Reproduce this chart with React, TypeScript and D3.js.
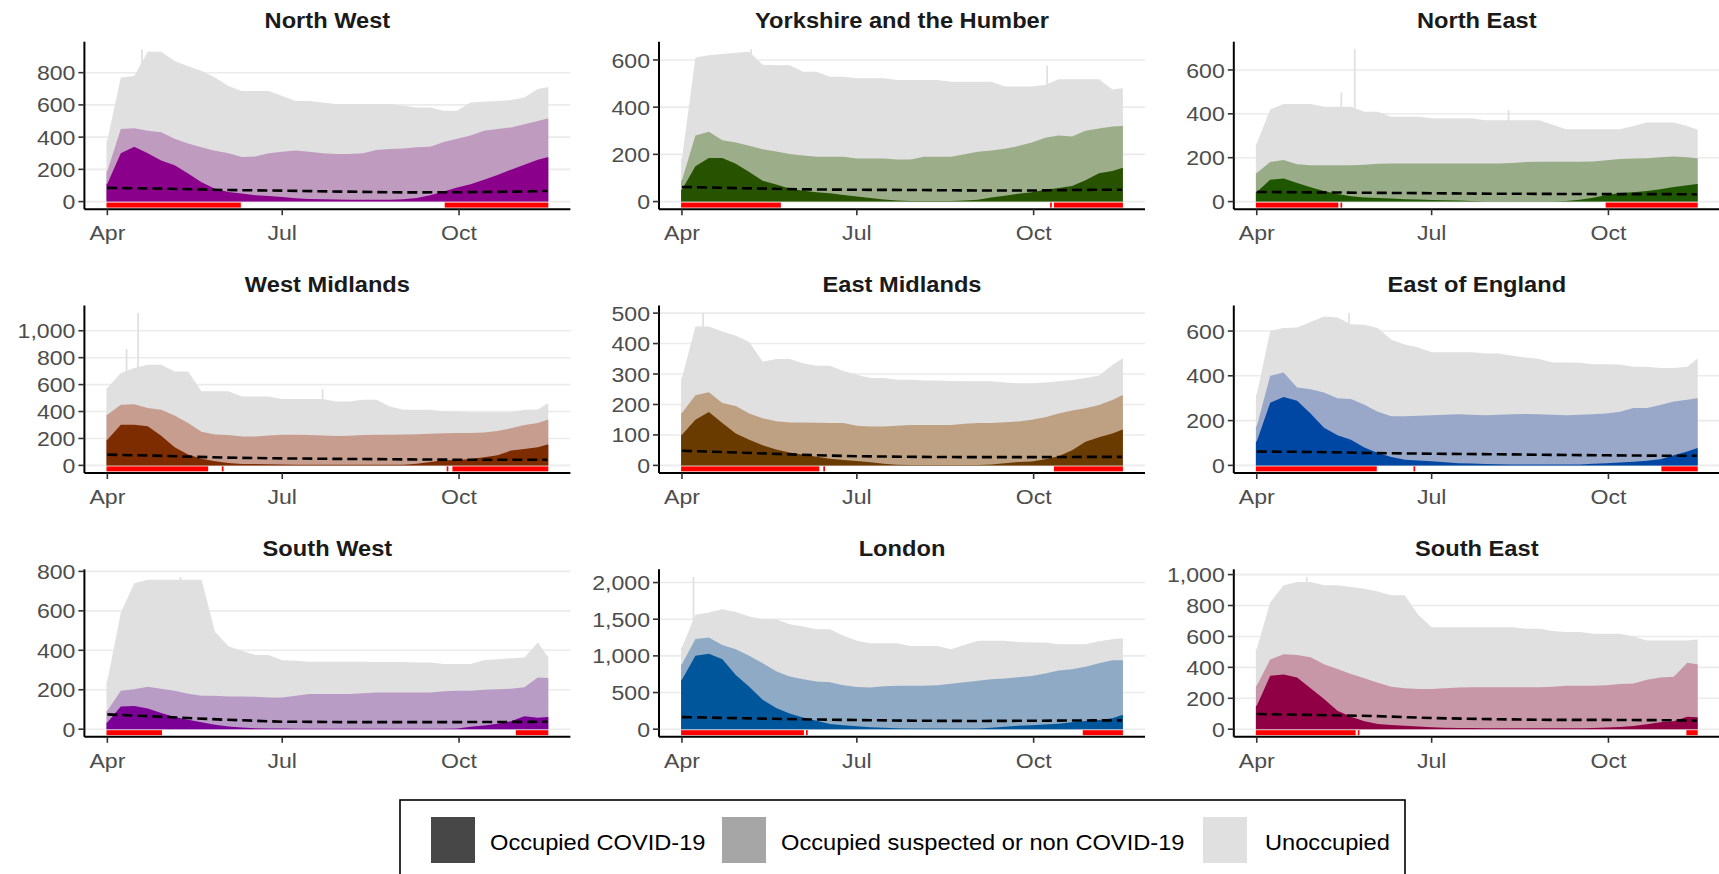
import React from "react";
import * as d3 from "d3";

// ---------- shared axes data ----------
const regionNames = [
  "North West", "Yorkshire and the Humber", "North East",
  "West Midlands", "East Midlands", "East of England",
  "South West", "London", "South East",
];
// days after 1 April 2020 at which the series were read
const sampleDays = [0, 7, 14, 21, 28, 35, 42, 49, 56, 63, 70, 77, 84, 91, 98, 105, 112, 119, 126, 133, 140, 147, 154, 161, 168, 175, 182, 189, 196, 203, 210, 217, 224, 229];
const thresholdDays = [0, 30, 61, 91, 122, 153, 183, 214, 229];
const firstDate = new Date(2020, 3, 1);
const lastDay = 229;
const xTickFormat = "%b";

// ---------- North West ----------
const covidNW = [110, 300, 340, 300, 255, 225, 175, 120, 80, 60, 50, 40, 35, 28, 20, 16, 14, 13, 12, 12, 12, 12, 14, 22, 40, 63, 88, 108, 135, 165, 198, 228, 260, 275];
const occupiedNW = [190, 450, 455, 440, 430, 390, 360, 337, 315, 300, 276, 280, 300, 310, 317, 310, 300, 296, 296, 300, 320, 327, 330, 337, 340, 370, 390, 410, 440, 450, 460, 480, 500, 515];
const bedsNW = [380, 770, 780, 930, 930, 872, 840, 810, 770, 718, 687, 687, 687, 656, 625, 625, 615, 605, 605, 605, 605, 605, 595, 584, 584, 564, 564, 615, 620, 625, 630, 646, 698, 710];
const thresholdNW = [85, 80, 72, 68, 62, 57, 58, 62, 66];
const redNW = [[0, 69], [176, 229]];
const spikesNW = [[18, 945]];

// ---------- Yorkshire and the Humber ----------
const covidYH = [50, 150, 185, 185, 160, 125, 88, 72, 55, 46, 40, 35, 28, 22, 15, 9, 5, 3, 2, 2, 3, 5, 8, 17, 25, 33, 40, 50, 58, 66, 90, 120, 130, 142];
const occupiedYH = [90, 280, 296, 260, 250, 236, 222, 212, 202, 195, 190, 190, 190, 182, 182, 182, 178, 178, 190, 190, 190, 200, 211, 216, 224, 235, 250, 270, 280, 276, 300, 310, 318, 320];
const bedsYH = [180, 610, 620, 625, 630, 635, 580, 578, 578, 550, 550, 529, 529, 522, 522, 522, 515, 515, 515, 515, 508, 508, 508, 508, 487, 487, 487, 494, 518, 518, 518, 518, 475, 480];
const thresholdYH = [62, 57, 52, 50, 49, 47, 47, 50, 50];
const redYH = [[0, 51], [192, 192], [194, 229]];
const spikesYH = [[36, 645], [190, 575]];

// ---------- North East ----------
const covidNE = [44, 100, 105, 85, 65, 48, 35, 24, 19, 16, 14, 11, 9, 7, 6, 5, 3, 2, 2, 2, 2, 2, 2, 3, 8, 18, 30, 39, 42, 48, 56, 66, 74, 80];
const occupiedNE = [130, 180, 189, 170, 166, 166, 166, 166, 168, 172, 174, 174, 174, 174, 174, 174, 174, 174, 174, 176, 180, 181, 181, 181, 181, 183, 188, 194, 196, 198, 202, 205, 202, 198];
const bedsNE = [265, 420, 445, 445, 445, 432, 432, 432, 410, 410, 387, 387, 387, 380, 380, 380, 380, 371, 371, 371, 371, 371, 350, 330, 330, 330, 330, 330, 345, 361, 361, 361, 345, 328];
const thresholdNE = [44, 42, 40, 38, 36, 35, 34, 34, 33];
const redNE = [[0, 42], [44, 44], [182, 229]];
const spikesNE = [[44, 498], [51, 694], [131, 417]];

// ---------- West Midlands ----------
const covidWM = [190, 302, 302, 290, 220, 135, 80, 50, 30, 18, 10, 10, 8, 6, 5, 5, 5, 5, 5, 5, 5, 5, 5, 12, 25, 38, 40, 48, 60, 75, 110, 122, 135, 155];
const occupiedWM = [376, 450, 455, 426, 413, 370, 315, 250, 230, 225, 215, 215, 222, 228, 228, 225, 222, 218, 220, 225, 228, 228, 230, 232, 235, 238, 240, 240, 245, 255, 275, 300, 314, 339];
const bedsWM = [574, 686, 723, 748, 748, 698, 698, 550, 550, 550, 512, 512, 512, 493, 493, 493, 493, 475, 475, 488, 488, 438, 413, 413, 413, 401, 401, 394, 394, 394, 394, 413, 415, 460];
const thresholdWM = [80, 70, 58, 52, 48, 45, 42, 42, 42];
const redWM = [[0, 52], [60, 60], [177, 177], [180, 229]];
const spikesWM = [[10, 864], [16, 1131], [112, 567]];

// ---------- East Midlands ----------
const covidEM = [101, 150, 175, 139, 105, 84, 66, 52, 42, 35, 28, 22, 18, 14, 10, 5, 2, 1, 1, 1, 1, 1, 1, 3, 7, 11, 13, 20, 30, 50, 78, 92, 105, 117];
const occupiedEM = [172, 230, 240, 205, 195, 170, 155, 145, 141, 141, 140, 139, 139, 130, 128, 128, 130, 133, 133, 133, 133, 137, 139, 139, 142, 144, 150, 158, 170, 180, 188, 198, 215, 230];
const bedsEM = [287, 456, 456, 440, 426, 405, 340, 349, 349, 335, 327, 327, 310, 298, 287, 287, 281, 281, 279, 279, 277, 276, 276, 276, 272, 270, 270, 272, 276, 280, 287, 295, 330, 350];
const thresholdEM = [48, 42, 35, 30, 28, 27, 27, 28, 28];
const redEM = [[0, 71], [74, 74], [194, 229]];
const spikesEM = [[11, 500]];

// ---------- East of England ----------
const covidEE = [107, 280, 305, 289, 232, 168, 135, 114, 80, 55, 37, 25, 22, 19, 14, 10, 8, 6, 5, 4, 4, 4, 4, 4, 4, 7, 10, 13, 16, 21, 27, 45, 62, 77];
const occupiedEE = [175, 400, 415, 348, 340, 326, 300, 296, 271, 240, 219, 219, 222, 224, 226, 228, 226, 224, 226, 228, 230, 228, 226, 224, 226, 228, 232, 240, 256, 256, 270, 285, 293, 300];
const bedsEE = [315, 600, 613, 616, 640, 665, 660, 630, 628, 613, 561, 540, 527, 505, 505, 505, 505, 500, 500, 490, 482, 475, 460, 460, 458, 452, 452, 450, 440, 440, 435, 435, 440, 475];
const thresholdEE = [62, 60, 55, 52, 50, 47, 45, 43, 43];
const redEE = [[0, 62], [82, 82], [211, 229]];
const spikesEE = [[48, 680]];

// ---------- South West ----------
const covidSW = [34, 115, 118, 105, 82, 62, 48, 35, 22, 13, 8, 5, 4, 3, 2, 2, 2, 2, 2, 2, 2, 2, 2, 2, 2, 2, 3, 12, 19, 27, 40, 65, 58, 62];
const occupiedSW = [93, 195, 203, 215, 205, 195, 180, 169, 169, 166, 166, 165, 161, 161, 170, 178, 178, 178, 178, 182, 186, 186, 186, 186, 186, 192, 195, 195, 200, 203, 205, 212, 262, 260];
const bedsSW = [245, 590, 740, 758, 758, 758, 758, 758, 494, 420, 398, 376, 376, 350, 347, 342, 342, 342, 342, 342, 340, 340, 340, 338, 338, 330, 330, 330, 350, 355, 360, 364, 440, 370];
const thresholdSW = [75, 62, 48, 38, 36, 36, 36, 37, 38];
const redSW = [[0, 28], [213, 229]];
const spikesSW = [[38, 772]];

// ---------- London ----------
const covidLO = [673, 1000, 1030, 955, 740, 580, 400, 290, 215, 160, 115, 72, 55, 40, 28, 20, 12, 9, 9, 9, 9, 9, 9, 18, 32, 47, 55, 64, 75, 95, 112, 125, 150, 195];
const occupiedLO = [886, 1230, 1250, 1150, 1091, 1000, 900, 790, 720, 682, 650, 640, 600, 575, 570, 585, 591, 591, 591, 600, 620, 640, 660, 682, 690, 710, 727, 760, 800, 818, 850, 900, 940, 940];
const bedsLO = [1114, 1560, 1591, 1636, 1600, 1536, 1500, 1500, 1432, 1400, 1364, 1364, 1273, 1205, 1173, 1173, 1173, 1136, 1136, 1136, 1091, 1150, 1205, 1205, 1205, 1190, 1182, 1182, 1159, 1159, 1159, 1200, 1227, 1240];
const thresholdLO = [165, 150, 135, 125, 115, 112, 115, 120, 120];
const redLO = [[0, 63], [65, 65], [209, 229]];
const spikesLO = [[6, 2077]];

// ---------- South East ----------
const covidSE = [152, 345, 353, 335, 265, 195, 120, 80, 52, 34, 27, 22, 17, 13, 10, 8, 7, 6, 6, 6, 6, 6, 6, 6, 6, 8, 11, 14, 20, 32, 45, 52, 80, 78];
const occupiedSE = [281, 450, 485, 480, 465, 420, 390, 357, 330, 300, 275, 265, 260, 260, 265, 270, 271, 271, 271, 271, 271, 271, 275, 281, 281, 281, 285, 292, 295, 320, 335, 340, 430, 420];
const bedsSE = [519, 820, 931, 952, 952, 931, 931, 920, 909, 890, 866, 866, 740, 660, 660, 660, 660, 660, 660, 660, 649, 649, 635, 628, 628, 617, 617, 617, 600, 574, 574, 574, 574, 580];
const thresholdSE = [98, 92, 85, 72, 65, 60, 60, 58, 55];
const redSE = [[0, 51], [53, 53], [224, 229]];
const spikesSE = [[26, 985]];

// ---------- colours ----------
const darkColours = ["#8b008b", "#275200", "#1f5700", "#7d2c00", "#6a3b00", "#0047a3", "#7b0095", "#00569a", "#8f0045"];
const midColours = ["#bf9bbf", "#9bad89", "#98ac88", "#c79d90", "#bea183", "#99a8c8", "#b99cc5", "#8eaac5", "#c897a7"];
const unoccupiedColour = "#e0e0e0";
const legendLabels = ["Occupied COVID-19", "Occupied suspected or non COVID-19", "Unoccupied"];
const legendColours = ["#474747", "#a6a6a6", "#e0e0e0"];

const covidAll = [covidNW, covidYH, covidNE, covidWM, covidEM, covidEE, covidSW, covidLO, covidSE];
const occupiedAll = [occupiedNW, occupiedYH, occupiedNE, occupiedWM, occupiedEM, occupiedEE, occupiedSW, occupiedLO, occupiedSE];
const bedsAll = [bedsNW, bedsYH, bedsNE, bedsWM, bedsEM, bedsEE, bedsSW, bedsLO, bedsSE];
const thresholdAll = [thresholdNW, thresholdYH, thresholdNE, thresholdWM, thresholdEM, thresholdEE, thresholdSW, thresholdLO, thresholdSE];
const redAll = [redNW, redYH, redNE, redWM, redEM, redEE, redSW, redLO, redSE];
const spikesAll = [spikesNW, spikesYH, spikesNE, spikesWM, spikesEM, spikesEE, spikesSW, spikesLO, spikesSE];

const panels = regionNames.map((name, i) => ({
  name,
  covid: covidAll[i],
  occupied: occupiedAll[i],
  beds: bedsAll[i],
  threshold: thresholdAll[i],
  red: redAll[i],
  spikes: spikesAll[i],
  dark: darkColours[i],
  mid: midColours[i],
}));

// ---------- layout ----------
const FONT = "'Liberation Sans', Arial, Helvetica, sans-serif";
const SX = 1.1;
const colX = [84.4, 659, 1233.8];
const rowY = [41.7, 305.5, 569.3];
const PW = 486;
const PH = 167.5;

const dayDate = (d: number) => new Date(firstDate.getTime() + d * 86400000);

function SText(props: any) {
  const { x, y, anchor = "start", size = 21, weight = "normal", fill = "#4d4d4d", dy = 0, children } = props;
  return (
    <text
      transform={`translate(${x},${y}) scale(${SX},1)`}
      textAnchor={anchor}
      fontSize={size}
      fontWeight={weight}
      fill={fill}
      dy={dy}
      fontFamily={FONT}
    >
      {children}
    </text>
  );
}

function Panel({ p, x0, y0 }: any) {
  const span = lastDay + 0.9;
  const pad = 0.05 * span;
  const x = d3.scaleTime()
    .domain([dayDate(-0.45 - pad), dayDate(lastDay + 0.45 + pad)])
    .range([x0, x0 + PW]);
  const maxV = d3.max([...p.beds, ...p.spikes.map((s: number[]) => s[1])]) as number;
  const y = d3.scaleLinear().domain([-0.05 * maxV, 1.05 * maxV]).range([y0 + PH, y0]);
  const yTicks = y.ticks(5).filter((t) => t >= 0);
  const xTicks = x.ticks(d3.timeMonth.every(3) as any);
  const fmtX = d3.timeFormat(xTickFormat);
  const fmtY = d3.format(",");

  const pts = (vals: number[]) => {
    const arr: [number, number][] = sampleDays.map((d, i) => [d, vals[i]]);
    return [[-0.45, vals[0]] as [number, number], ...arr, [lastDay + 0.45, vals[vals.length - 1]] as [number, number]];
  };
  const area = d3.area<[number, number]>()
    .x((d) => x(dayDate(d[0])))
    .y0(y(0))
    .y1((d) => y(d[1]));
  const line = d3.line<[number, number]>()
    .x((d) => x(dayDate(d[0])))
    .y((d) => y(d[1]));
  const thrPts: [number, number][] = thresholdDays.map((d, i) => [d, p.threshold[i]]);
  const zeroY = y(0);
  const bottom = y0 + PH;

  return (
    <g>
      {yTicks.map((t) => (
        <line key={"g" + t} x1={x0} x2={x0 + PW} y1={y(t)} y2={y(t)} stroke="#ebebeb" strokeWidth={1.6} />
      ))}
      <path d={area(pts(p.beds)) || ""} fill={unoccupiedColour} />
      {p.spikes.map((s: number[], i: number) => (
        <rect key={"s" + i}
          x={x(dayDate(s[0] - 0.45))}
          width={Math.max(1.5, x(dayDate(s[0] + 0.45)) - x(dayDate(s[0] - 0.45)))}
          y={y(s[1])} height={zeroY - y(s[1])} fill={unoccupiedColour} />
      ))}
      <path d={area(pts(p.occupied)) || ""} fill={p.mid} />
      <path d={area(pts(p.covid)) || ""} fill={p.dark} />
      {p.red.map((r: number[], i: number) => (
        <rect key={"r" + i}
          x={x(dayDate(r[0] - 0.45))}
          width={x(dayDate(r[1] + 0.45)) - x(dayDate(r[0] - 0.45))}
          y={zeroY + 1} height={5} fill="#ff0000" />
      ))}
      <path d={line(thrPts) || ""} fill="none" stroke="#000" strokeWidth={2.6} strokeDasharray="10,5" />
      {/* axes */}
      <line x1={x0} x2={x0} y1={y0} y2={bottom} stroke="#000" strokeWidth={2} />
      <line x1={x0} x2={x0 + PW} y1={bottom} y2={bottom} stroke="#000" strokeWidth={2} />
      {yTicks.map((t) => (
        <g key={"y" + t}>
          <line x1={x0 - 6} x2={x0} y1={y(t)} y2={y(t)} stroke="#333" strokeWidth={1.6} />
          <SText x={x0 - 9} y={y(t)} anchor="end" dy="0.36em">{fmtY(t)}</SText>
        </g>
      ))}
      {xTicks.map((t) => (
        <g key={"x" + t.getTime()}>
          <line x1={x(t)} x2={x(t)} y1={bottom} y2={bottom + 6} stroke="#333" strokeWidth={1.6} />
          <SText x={x(t)} y={bottom + 31} anchor="middle">{fmtX(t)}</SText>
        </g>
      ))}
      <SText x={x0 + PW / 2} y={y0 - 13.5} anchor="middle" size={21.5} weight="bold" fill="#1a1a1a">{p.name}</SText>
    </g>
  );
}

function Legend() {
  const keyX = [431, 722, 1203];
  const textX = [490, 781, 1265];
  return (
    <g>
      <rect x={400} y={800} width={1005} height={90} fill="#fff" stroke="#000" strokeWidth={1.6} />
      {legendLabels.map((lab, i) => (
        <g key={lab}>
          <rect x={keyX[i]} y={817} width={44} height={46} fill={legendColours[i]} />
          <SText x={textX[i]} y={842} dy="0.36em" fill="#000" size={21.5}>{lab}</SText>
        </g>
      ))}
    </g>
  );
}

export default function App() {
  return (
    <svg width={1719} height={874} style={{ position: "absolute", left: 0, top: 0, display: "block" }}>
      <rect x={0} y={0} width={1719} height={874} fill="#fff" />
      {panels.map((p, i) => (
        <Panel key={p.name} p={p} x0={colX[i % 3]} y0={rowY[Math.floor(i / 3)]} />
      ))}
      <Legend />
    </svg>
  );
}
